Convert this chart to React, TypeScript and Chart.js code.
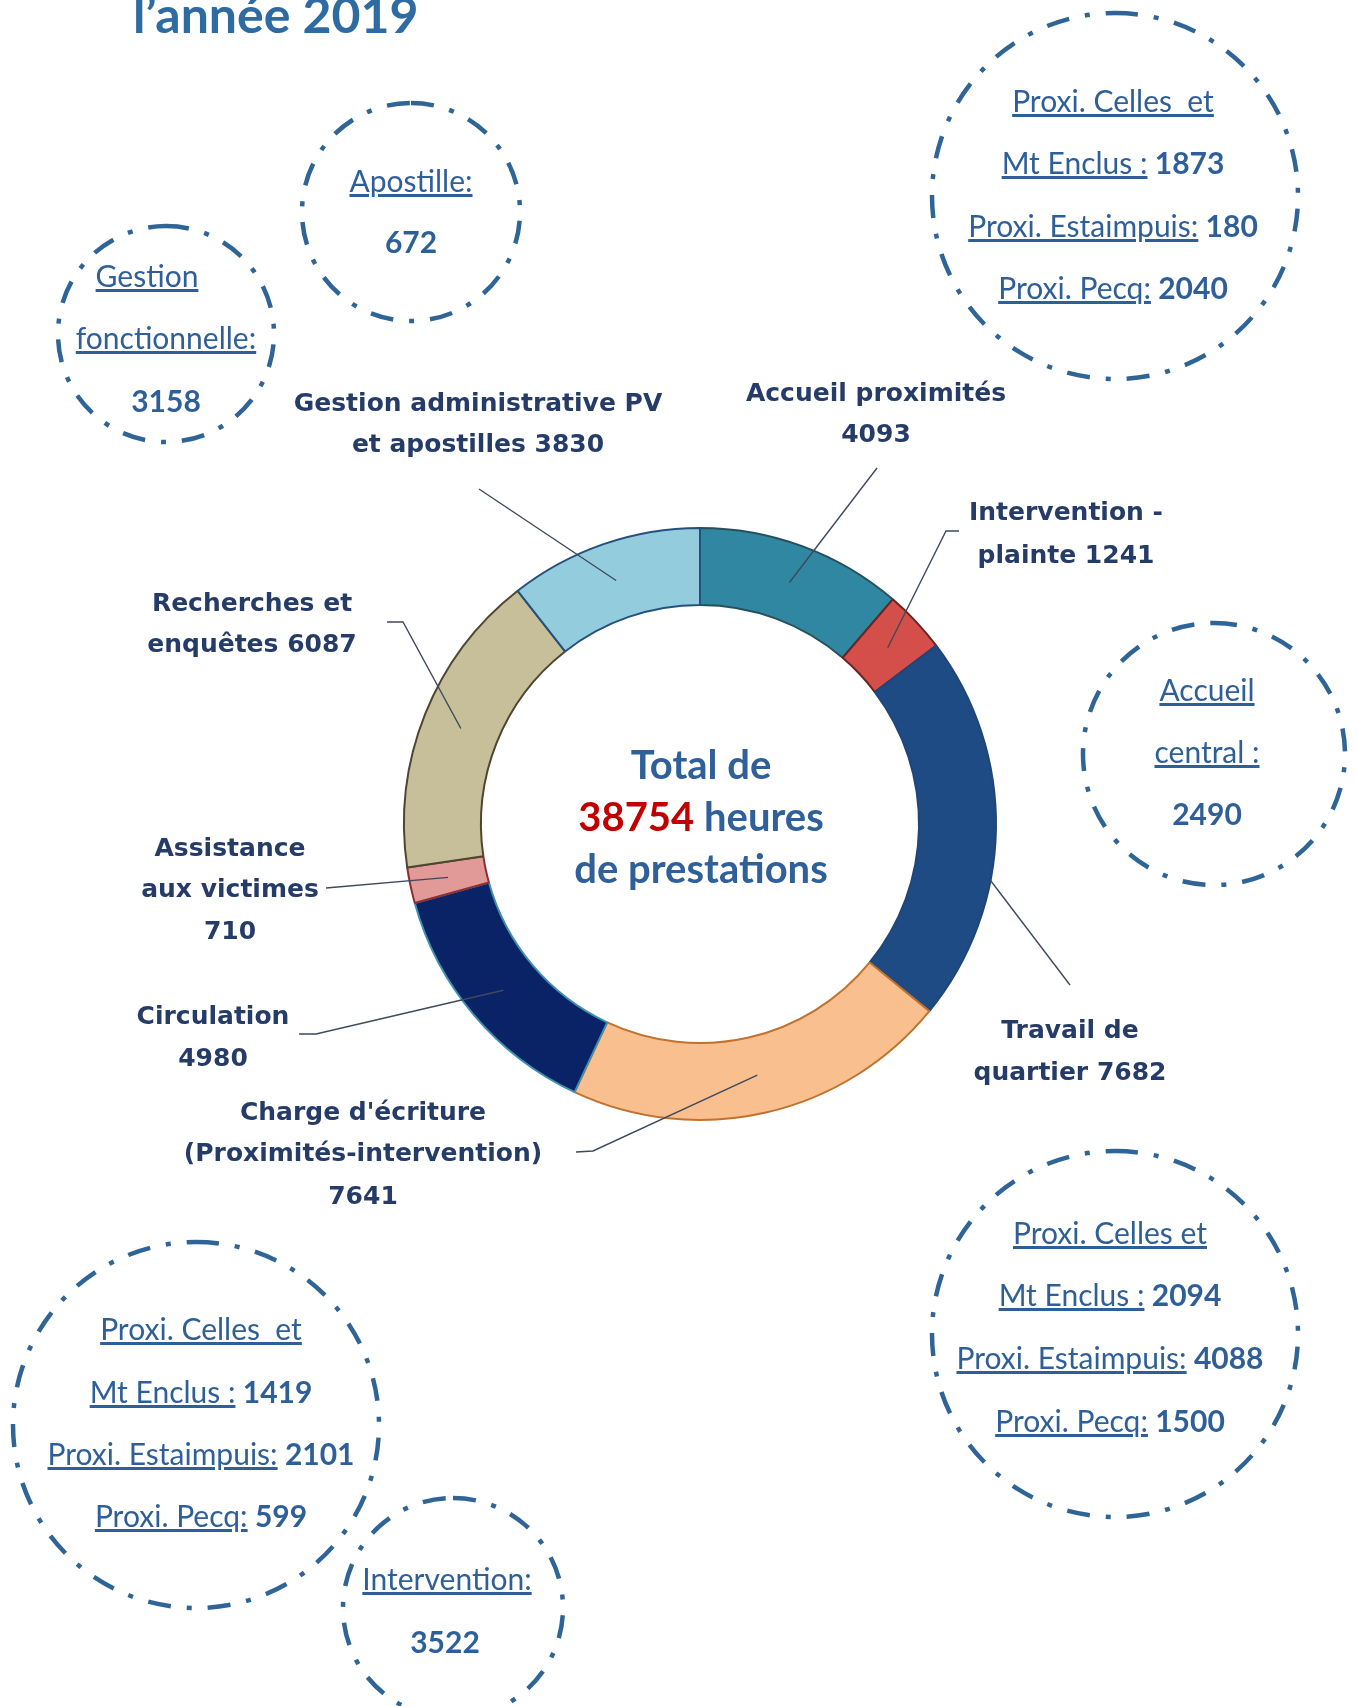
import React, { useEffect, useRef } from "react";
import { Chart, registerables } from "chart.js";

Chart.register(...registerables);

// ---------------- data ----------------
const categories = [
  "Accueil proximités",
  "Intervention - plainte",
  "Travail de quartier",
  "Charge d'écriture (Proximités-intervention)",
  "Circulation",
  "Assistance aux victimes",
  "Recherches et enquêtes",
  "Gestion administrative PV et apostilles",
];
const hours = [4093, 1241, 7682, 7641, 4980, 710, 6087, 3830];
const labelLines = [
  ["Accueil proximités", "{v}"],
  ["Intervention -", "plainte {v}"],
  ["Travail de", "quartier {v}"],
  ["Charge d'écriture", "(Proximités-intervention)", "{v}"],
  ["Circulation", "{v}"],
  ["Assistance", "aux victimes", "{v}"],
  ["Recherches et", "enquêtes {v}"],
  ["Gestion administrative PV", "et apostilles {v}"],
];
const fillColors = ["#2F87A1", "#D44F49", "#1F4B84", "#F9BF8E", "#0A2366", "#E19A98", "#C6BF99", "#93CDDD"];
const borderColors = ["#26505C", "#6B2424", "#1E4679", "#C0722E", "#3E8FB0", "#8A3030", "#4D4630", "#24507E"];

const accueilCentral = 2490;
const apostille = 672;
const gestionFonctionnelle = 3158;
const interventionHours = 3522;
const proxiSites = ["Mt Enclus :", "Proxi. Estaimpuis:", "Proxi. Pecq:"];
const accueilProxParts = [1873, 180, 2040];
const travailQuartierParts = [2094, 4088, 1500];
const chargeEcritureParts = [1419, 2101, 599];
const totalHours = hours.reduce((a, b) => a + b, 0) + accueilCentral;

// ---------------- layout ----------------
const W = 1357;
const H = 1706;
const BLUE = "#2F5F98";
const LABEL = "#263C68";

const labelPos = [
  { x: 876, y: [401, 442], leader: [[877, 468]], anchor: { t: 0.5, r: 0.5 } },
  { x: 1066, y: [520, 563], leader: [[959, 531], [946, 531]], anchor: { t: 0.5, r: 0.5 } },
  { x: 1070, y: [1038, 1080], leader: [[1070, 985]], anchor: { t: 0.63, r: 1 } },
  { x: 363, y: [1120, 1161, 1204], leader: [[576, 1152], [593, 1151]], anchor: { t: 0.5, r: 0.5 } },
  { x: 213, y: [1024, 1066], leader: [[299, 1034], [316, 1034]], anchor: { t: 0.5, r: 0.5 } },
  { x: 230, y: [856, 897, 939], leader: [[326, 888]], anchor: { t: 0.5, r: 0.5 } },
  { x: 252, y: [611, 652], leader: [[387, 622], [403, 622]], anchor: { t: 0.5, r: 0.5 } },
  { x: 478, y: [411, 452], leader: [[479, 489]], anchor: { t: 0.5, r: 0.5 } },
];

type Part = { t: string; u?: boolean; b?: boolean };
type Line = { x: number; y: number; parts: Part[] };

const proxiLines = (x: number, ys: number[], first: string, vals: number[]): Line[] => [
  { x, y: ys[0], parts: [{ t: first, u: true }] },
  ...vals.map((v, i) => ({ x, y: ys[i + 1], parts: [{ t: proxiSites[i], u: true }, { t: " " + v, b: true }] })),
];

const circles: { cx: number; cy: number; r: number; lines: Line[] }[] = [
  {
    cx: 411, cy: 212, r: 109,
    lines: [
      { x: 411, y: 192, parts: [{ t: "Apostille:", u: true }] },
      { x: 411, y: 253, parts: [{ t: String(apostille), b: true }] },
    ],
  },
  {
    cx: 166, cy: 334, r: 108,
    lines: [
      { x: 147, y: 287, parts: [{ t: "Gestion", u: true }] },
      { x: 166, y: 349, parts: [{ t: "fonctionnelle:", u: true }] },
      { x: 166, y: 412, parts: [{ t: String(gestionFonctionnelle), b: true }] },
    ],
  },
  { cx: 1115, cy: 196, r: 183, lines: proxiLines(1113, [112, 174, 237, 299], "Proxi. Celles  et", accueilProxParts) },
  {
    cx: 1214, cy: 754, r: 131,
    lines: [
      { x: 1207, y: 701, parts: [{ t: "Accueil", u: true }] },
      { x: 1207, y: 763, parts: [{ t: "central :", u: true }] },
      { x: 1207, y: 825, parts: [{ t: String(accueilCentral), b: true }] },
    ],
  },
  { cx: 1115, cy: 1334, r: 183, lines: proxiLines(1110, [1244, 1306, 1369, 1432], "Proxi. Celles et", travailQuartierParts) },
  { cx: 196, cy: 1425, r: 183, lines: proxiLines(201, [1340, 1403, 1465, 1527], "Proxi. Celles  et", chargeEcritureParts) },
  {
    cx: 453, cy: 1608, r: 110,
    lines: [
      { x: 447, y: 1590, parts: [{ t: "Intervention:", u: true }] },
      { x: 445, y: 1653, parts: [{ t: String(interventionHours), b: true }] },
    ],
  },
];

const leaderPlugin = {
  id: "leaders",
  afterDatasetsDraw(chart: any) {
    const ctx = chart.ctx as CanvasRenderingContext2D;
    const arcs = chart.getDatasetMeta(0).data;
    ctx.save();
    ctx.strokeStyle = "#3E4A5C";
    ctx.lineWidth = 1.4;
    arcs.forEach((arc: any, i: number) => {
      const p = arc.getProps(["x", "y", "startAngle", "endAngle", "innerRadius", "outerRadius"], true);
      const spec = labelPos[i];
      const a = p.startAngle + spec.anchor.t * (p.endAngle - p.startAngle);
      const r = p.innerRadius + spec.anchor.r * (p.outerRadius - p.innerRadius);
      ctx.beginPath();
      spec.leader.forEach(([x, y], k) => (k ? ctx.lineTo(x, y) : ctx.moveTo(x, y)));
      ctx.lineTo(p.x + Math.cos(a) * r, p.y + Math.sin(a) * r);
      ctx.stroke();
    });
    ctx.restore();
  },
};

export default function App() {
  const ref = useRef<HTMLCanvasElement>(null);

  useEffect(() => {
    const chart = new Chart(ref.current!, {
      type: "doughnut",
      data: {
        labels: categories,
        datasets: [
          {
            data: hours,
            backgroundColor: fillColors,
            borderColor: borderColors,
            borderWidth: 2,
          },
        ],
      },
      options: {
        responsive: false,
        animation: false,
        devicePixelRatio: 1,
        cutout: "74%",
        layout: { padding: { left: 403, right: 360, top: 527, bottom: 585 } },
        plugins: { legend: { display: false }, tooltip: { enabled: false } },
      },
      plugins: [leaderPlugin],
    } as any);
    return () => chart.destroy();
  }, []);

  const circleFont = "Lato, 'Open Sans', sans-serif";

  return (
    <div style={{ position: "absolute", left: 0, top: 0, width: W, height: H, background: "#fff", overflow: "hidden" }}>
      <canvas ref={ref} width={W} height={H} style={{ position: "absolute", left: 0, top: 0, width: W, height: H }} />
      <svg width={W} height={H} style={{ position: "absolute", left: 0, top: 0 }}>
        <text x={133} y={33} fontFamily={circleFont} fontWeight="bold" fontSize={50} fill="#2F6BA3">
          l’année 2019
        </text>

        {circles.map((c, i) => (
          <g key={"c" + i}>
            <circle
              cx={c.cx}
              cy={c.cy}
              r={c.r}
              fill="none"
              stroke="#2F6497"
              strokeWidth={4.5}
              strokeDasharray="23 16 5 16"
              transform={`rotate(-90 ${c.cx} ${c.cy})`}
            />
            {c.lines.map((ln, j) => (
              <text
                key={j}
                x={ln.x}
                y={ln.y}
                textAnchor="middle"
                fontFamily={circleFont}
                fontSize={30}
                fill={BLUE}
                xmlSpace="preserve"
                style={{ whiteSpace: "pre" }}
              >
                {ln.parts.map((p, k) => (
                  <tspan
                    key={k}
                    fontWeight={p.b ? "bold" : "normal"}
                    style={
                      p.u
                        ? { textDecoration: "underline", textDecorationThickness: "2px", textUnderlineOffset: "4px" }
                        : undefined
                    }
                  >
                    {p.t}
                  </tspan>
                ))}
              </text>
            ))}
          </g>
        ))}

        {labelLines.map((lines, i) =>
          lines.map((ln, j) => (
            <text
              key={"l" + i + "_" + j}
              x={labelPos[i].x}
              y={labelPos[i].y[j]}
              textAnchor="middle"
              fontFamily="'DejaVu Sans', Verdana, sans-serif"
              fontWeight="bold"
              fontSize={25}
              fill={LABEL}
            >
              {ln.replace("{v}", String(hours[i]))}
            </text>
          ))
        )}

        <text x={701} y={779} textAnchor="middle" fontFamily={circleFont} fontWeight="bold" fontSize={40} fill="#2F6099">
          Total de
        </text>
        <text x={701} y={831} textAnchor="middle" fontFamily={circleFont} fontWeight="bold" fontSize={40} fill="#2F6099">
          <tspan fill="#C00000">{totalHours}</tspan> heures
        </text>
        <text x={701} y={883} textAnchor="middle" fontFamily={circleFont} fontWeight="bold" fontSize={40} fill="#2F6099">
          de prestations
        </text>
      </svg>
    </div>
  );
}
